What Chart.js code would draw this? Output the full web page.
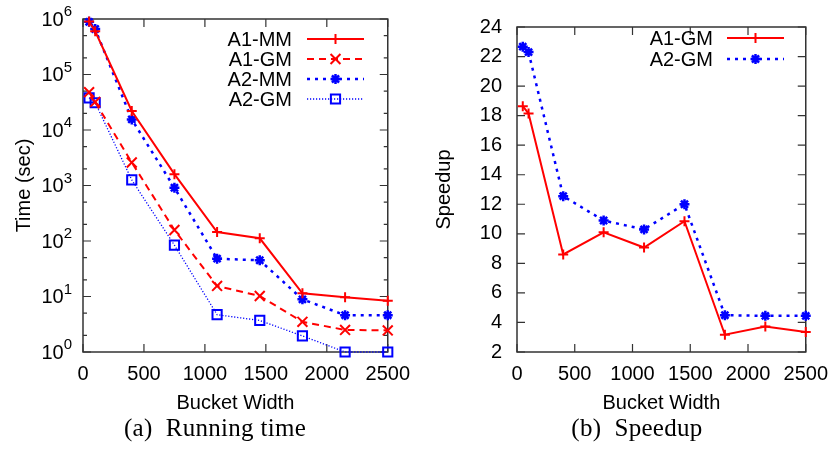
<!DOCTYPE html>
<html>
<head>
<meta charset="utf-8">
<script src="https://cdn.jsdelivr.net/npm/chart.js@4.4.1/dist/chart.umd.min.js"></script>
<style>
  body { margin: 0; width: 838px; height: 449px; background: #fff; position: relative; overflow: hidden; }
  canvas { position: absolute; top: 0; }
  #left { left: 0; }
  #right { left: 420px; }
  .cap { position: absolute; top: 415px; font: 25px "Liberation Serif", "Times New Roman", serif; line-height: 1;
         white-space: pre; transform: translateX(-50%); color: #000; letter-spacing: 0.3px; }
</style>
</head>
<body>
<canvas id="left" width="420" height="449" style="width:420px;height:449px"></canvas>
<canvas id="right" width="418" height="449" style="width:418px;height:449px"></canvas>
<div class="cap" style="left:215px">(a)  Running time</div>
<div class="cap" style="left:637px">(b)  Speedup</div>
<script>
// bucket widths on the x axis
const bucketWidths = [50, 100, 400, 750, 1100, 1450, 1800, 2150, 2500];

// (a) running time, seconds
const timeA1MM = [900000, 600000, 22000, 1600, 145, 112, 11.4, 9.7, 8.4];
const timeA1GM = [48000, 32000, 2600, 158, 15.5, 10.2, 3.5, 2.5, 2.45];
const timeA2MM = [890000, 660000, 15500, 910, 48, 45, 8.9, 4.6, 4.6];
const timeA2GM = [38000, 31000, 1260, 84, 4.7, 3.7, 1.95, 1.0, 1.0];

// (b) speedup
const speedA1GM = [18.64, 18.14, 8.6, 10.1, 9.07, 10.85, 3.17, 3.72, 3.36];
const speedA2GM = [22.67, 22.3, 12.55, 10.9, 10.3, 12.0, 4.49, 4.45, 4.45];

const timeTicks = [1, 10, 100, 1000, 10000, 100000, 1000000];

const sans = '"Liberation Sans", Arial, sans-serif';
const fs = 20;
const red = '#ff0000';
const blue = '#0000ff';

function pts(ys) {
  return bucketWidths.map((x, i) => ({x: x, y: ys[i]}));
}

function series(label, ys, color, dash, width, marker, radius, markerWidth) {
  return {
    label: label,
    data: pts(ys),
    borderColor: color,
    backgroundColor: color,
    borderDash: dash,
    borderWidth: width,
    pointStyle: marker,
    pointRadius: radius,
    pointHoverRadius: radius,
    pointBorderWidth: markerWidth,
    pointBorderColor: color,
    pointBackgroundColor: 'rgba(0,0,0,0)',
    clip: false,
    tension: 0,
    fill: false
  };
}

function drawMarker(ctx, style, r, x, y) {
  const d = r * Math.SQRT1_2;
  ctx.beginPath();
  if (style === 'cross' || style === 'star') {
    ctx.moveTo(x, y - r); ctx.lineTo(x, y + r);
    ctx.moveTo(x - r, y); ctx.lineTo(x + r, y);
  }
  if (style === 'crossRot' || style === 'star') {
    ctx.moveTo(x - d, y - d); ctx.lineTo(x + d, y + d);
    ctx.moveTo(x - d, y + d); ctx.lineTo(x + d, y - d);
  }
  if (style === 'rect') ctx.rect(x - d, y - d, 2 * d, 2 * d);
  ctx.stroke();
}

// box round the plot with inward ticks on all four sides (gnuplot style)
const framePlugin = {
  id: 'frame',
  beforeDatasetsDraw(chart) {
    const ctx = chart.ctx, a = chart.chartArea;
    const xs = chart.scales.x, ys = chart.scales.y;
    ctx.save();
    ctx.strokeStyle = '#333';
    ctx.lineWidth = 1.2;
    ctx.beginPath();
    xs.ticks.forEach(t => {
      const px = xs.getPixelForValue(t.value);
      ctx.moveTo(px, a.bottom); ctx.lineTo(px, a.bottom - 8);
      ctx.moveTo(px, a.top); ctx.lineTo(px, a.top + 8);
    });
    const marks = ys.ticks.map(t => [t.value, 8]);
    if (ys.type === 'logarithmic') {
      ys.ticks.forEach(t => {
        if (t.value < ys.max) { marks.push([t.value * 2, 4]); marks.push([t.value * 5, 4]); }
      });
    }
    marks.forEach(m => {
      const py = ys.getPixelForValue(m[0]);
      ctx.moveTo(a.left, py); ctx.lineTo(a.left + m[1], py);
      ctx.moveTo(a.right, py); ctx.lineTo(a.right - m[1], py);
    });
    ctx.stroke();
    ctx.lineWidth = 1.5;
    ctx.strokeRect(a.left, a.top, a.right - a.left, a.bottom - a.top);
    ctx.restore();
  }
};

// 10^n labels for the log axis
const powerLabels = {
  id: 'powerLabels',
  afterDraw(chart, args, opts) {
    if (!opts.on) return;
    const ctx = chart.ctx, ys = chart.scales.y;
    const right = chart.chartArea.left - 11;
    ctx.save();
    ctx.fillStyle = '#000';
    ctx.textBaseline = 'middle';
    ys.ticks.forEach(t => {
      const py = ys.getPixelForValue(t.value);
      const exp = String(Math.round(Math.log10(t.value)));
      ctx.font = '15px ' + sans;
      const ew = ctx.measureText(exp).width;
      ctx.textAlign = 'left';
      ctx.fillText(exp, right - ew, py - 7);
      ctx.font = fs + 'px ' + sans;
      ctx.textAlign = 'right';
      ctx.fillText('10', right - ew, py + 1);
    });
    ctx.restore();
  }
};

// key: text on the left, line sample with marker on the right
const keyPlugin = {
  id: 'key',
  afterDatasetsDraw(chart, args, opts) {
    const ctx = chart.ctx;
    ctx.save();
    chart.data.datasets.forEach((ds, i) => {
      const y = opts.y0 + i * opts.dy;
      ctx.fillStyle = '#000';
      ctx.font = fs + 'px ' + sans;
      ctx.textAlign = 'right';
      ctx.textBaseline = 'middle';
      ctx.fillText(ds.label, opts.textRight, y + 1);
      ctx.strokeStyle = ds.borderColor;
      ctx.lineWidth = ds.borderWidth;
      ctx.setLineDash(ds.borderDash);
      ctx.beginPath();
      ctx.moveTo(opts.x1, y); ctx.lineTo(opts.x2, y);
      ctx.stroke();
      ctx.setLineDash([]);
      ctx.lineWidth = ds.pointBorderWidth;
      drawMarker(ctx, ds.pointStyle, ds.pointRadius, (opts.x1 + opts.x2) / 2, y);
    });
    ctx.restore();
  }
};

function xScale() {
  return {
    type: 'linear', min: 0, max: 2500,
    grid: {display: false, drawTicks: false},
    border: {display: false},
    ticks: {stepSize: 500, color: '#000', font: {family: sans, size: fs}, padding: 10, maxRotation: 0,
            callback: v => String(v)},
    title: {display: true, text: 'Bucket Width', color: '#000', font: {family: sans, size: fs}, padding: {top: 0, bottom: 1}},
    afterFit(s) { s.height = 64; }
  };
}

const common = {
  responsive: false,
  animation: false,
  events: [],
  plugins: {legend: {display: false}, tooltip: {enabled: false}}
};

new Chart(document.getElementById('left'), {
  type: 'line',
  data: {
    datasets: [
      series('A1-MM', timeA1MM, red, [], 2, 'cross', 5, 2),
      series('A1-GM', timeA1GM, red, [7, 5], 2, 'crossRot', 7, 2),
      series('A2-MM', timeA2MM, blue, [3, 5], 2.5, 'star', 5, 2.5),
      series('A2-GM', timeA2GM, blue, [1.2, 1.8], 1.3, 'rect', 6.5, 2)
    ]
  },
  options: {
    ...common,
    layout: {padding: {left: 0, top: 19, right: 32, bottom: 33}},
    scales: {
      x: xScale(),
      y: {
        type: 'logarithmic', min: 1, max: 1000000,
        grid: {display: false, drawTicks: false},
        border: {display: false},
        ticks: {display: false},
        afterBuildTicks(s) { s.ticks = timeTicks.map(v => ({value: v})); },
        title: {display: true, text: 'Time (sec)', color: '#000', font: {family: sans, size: fs}, padding: {top: 12, bottom: 0}},
        afterFit(s) { s.width = 83; }
      }
    },
    plugins: {
      ...common.plugins,
      powerLabels: {on: true},
      key: {textRight: 292, x1: 307, x2: 364, y0: 39, dy: 20}
    }
  },
  plugins: [framePlugin, powerLabels, keyPlugin]
});

new Chart(document.getElementById('right'), {
  type: 'line',
  data: {
    datasets: [
      series('A1-GM', speedA1GM, red, [], 2, 'cross', 5, 2),
      series('A2-GM', speedA2GM, blue, [3, 5], 2.5, 'star', 5, 2.5)
    ]
  },
  options: {
    ...common,
    layout: {padding: {left: 0, top: 19, right: 29, bottom: 33}},
    scales: {
      x: xScale(),
      y: {
        type: 'linear', min: 2, max: 24,
        grid: {display: false, drawTicks: false},
        border: {display: false},
        ticks: {stepSize: 2, color: '#000', font: {family: sans, size: fs}, padding: 15},
        title: {display: true, text: 'Speedup', color: '#000', font: {family: sans, size: fs}, padding: {top: 12, bottom: 0}},
        afterFit(s) { s.width = 97; }
      }
    },
    plugins: {
      ...common.plugins,
      powerLabels: {on: false},
      key: {textRight: 293, x1: 307, x2: 364, y0: 38, dy: 21}
    }
  },
  plugins: [framePlugin, powerLabels, keyPlugin]
});
</script>
</body>
</html>
